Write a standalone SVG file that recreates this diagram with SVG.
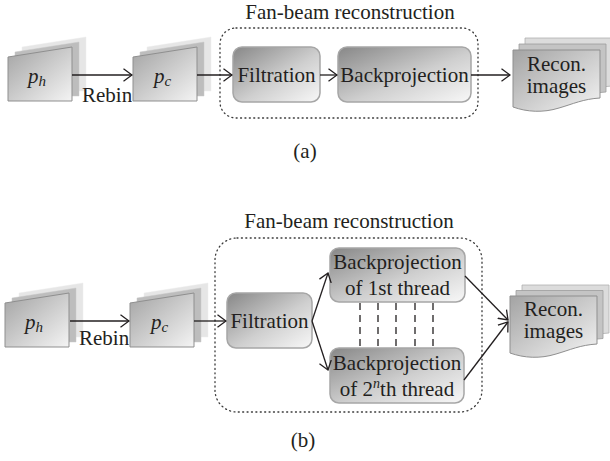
<svg xmlns="http://www.w3.org/2000/svg" xmlns:xlink="http://www.w3.org/1999/xlink" width="610" height="461" viewBox="0 0 610 461">
<style>
text{font-family:"Liberation Serif","DejaVu Serif",serif;fill:#231f20;font-size:21px}
.c{text-anchor:middle}
.it{font-style:italic}
.box{fill:url(#g);stroke:#a6a6a6;stroke-width:1.5}
.s0{fill:url(#gs);stroke:#8f8f8f;stroke-width:1}
.s1{fill:#bdbdbd;stroke:#c8c8c8;stroke-width:0.5}
.s2{fill:#e6e6e6;stroke:#ececec;stroke-width:0.5}
.d0{fill:url(#gs);stroke:#8f8f8f;stroke-width:1}
.d1{fill:#c4c4c4;stroke:#9c9c9c;stroke-width:0.8}
.d2{fill:#dcdcdc;stroke:#b0b0b0;stroke-width:0.8}
.grp{fill:none;stroke:#3a3a3a;stroke-width:1.3;stroke-dasharray:1 3.4;stroke-linecap:round}
.ln{fill:none;stroke:#231f20;stroke-width:1.3}
.dash{fill:none;stroke:#231f20;stroke-width:1.3;stroke-dasharray:7 5}
</style>
<defs>
<linearGradient id="g" x1="0" y1="0" x2="1" y2="1"><stop offset="0" stop-color="#878787"/><stop offset="0.55" stop-color="#cfcfcf"/><stop offset="1" stop-color="#f8f8f8"/></linearGradient>
<linearGradient id="gs" x1="0" y1="0" x2="1" y2="1"><stop offset="0" stop-color="#a3a3a3"/><stop offset="1" stop-color="#f4f4f4"/></linearGradient>
<marker id="arr" viewBox="0 0 10 14" refX="9" refY="7" markerWidth="10" markerHeight="14" markerUnits="userSpaceOnUse" orient="auto"><path d="M0.5,0.8 L9,7 L0.5,13.2" fill="none" stroke="#231f20" stroke-width="1.3"/></marker>
<path id="sheet" d="M0,10 L64,0 L64,54 L0,54 Z"/>
<path id="doc" d="M0,0 H87 V48 C70,49 60,54 46,58 C30,63 14,62 0,57 Z"/>
</defs>

<!-- Panel (a) -->
<g id="title-a"><text class="c" x="350" y="19">Fan-beam reconstruction</text></g>
<g id="group-a"><rect class="grp" x="220" y="28" width="258" height="90" rx="16"/></g>

<g id="ph-a" transform="translate(8,47)">
<use xlink:href="#sheet" href="#sheet" class="s2" transform="translate(14,-10)"/>
<use xlink:href="#sheet" href="#sheet" class="s1" transform="translate(7,-5)"/>
<use xlink:href="#sheet" href="#sheet" class="s0"/>
<text class="it" x="20" y="36">p<tspan font-size="15" dy="3">h</tspan></text>
</g>
<g id="pc-a" transform="translate(133,47)">
<use xlink:href="#sheet" href="#sheet" class="s2" transform="translate(14,-10)"/>
<use xlink:href="#sheet" href="#sheet" class="s1" transform="translate(7,-5)"/>
<use xlink:href="#sheet" href="#sheet" class="s0"/>
<text class="it" x="21" y="36">p<tspan font-size="15" dy="3">c</tspan></text>
</g>
<g id="filt-a"><rect class="box" x="233" y="47" width="87" height="55" rx="9"/><text class="c" x="276.5" y="82">Filtration</text></g>
<g id="bp-a"><rect class="box" x="338" y="47" width="133" height="55" rx="9"/><text class="c" x="404.5" y="82">Backprojection</text></g>
<g id="recon-a" transform="translate(513,50)">
<use xlink:href="#doc" href="#doc" class="d2" transform="translate(12,-12)"/>
<use xlink:href="#doc" href="#doc" class="d1" transform="translate(6,-6)"/>
<use xlink:href="#doc" href="#doc" class="d0"/>
<text class="c" x="43.5" y="21">Recon.</text>
<text class="c" x="43.5" y="43">images</text>
</g>
<g id="label-a"><text class="c" x="305" y="158">(a)</text></g>
<g id="rebin-a"><text x="82" y="102">Rebin</text></g>

<!-- Panel (b) -->
<g id="title-b"><text class="c" x="349" y="228">Fan-beam reconstruction</text></g>
<g id="group-b"><rect class="grp" x="215" y="238" width="267" height="174" rx="22"/></g>

<g id="ph-b" transform="translate(5,293)">
<use xlink:href="#sheet" href="#sheet" class="s2" transform="translate(14,-10)"/>
<use xlink:href="#sheet" href="#sheet" class="s1" transform="translate(7,-5)"/>
<use xlink:href="#sheet" href="#sheet" class="s0"/>
<text class="it" x="20" y="36">p<tspan font-size="15" dy="3">h</tspan></text>
</g>
<g id="pc-b" transform="translate(130,293)">
<use xlink:href="#sheet" href="#sheet" class="s2" transform="translate(14,-10)"/>
<use xlink:href="#sheet" href="#sheet" class="s1" transform="translate(7,-5)"/>
<use xlink:href="#sheet" href="#sheet" class="s0"/>
<text class="it" x="21" y="36">p<tspan font-size="15" dy="3">c</tspan></text>
</g>
<g id="filt-b"><rect class="box" x="227" y="293" width="85" height="55" rx="9"/><text class="c" x="269.5" y="328">Filtration</text></g>
<g id="bp1-b"><rect class="box" x="330" y="248" width="135" height="54" rx="9"/><text class="c" x="397.5" y="269">Backprojection</text><text class="c" x="397.5" y="295">of 1st thread</text></g>
<g id="bp2-b"><rect class="box" x="330" y="348" width="134" height="55" rx="9"/><text class="c" x="397" y="370">Backprojection</text><text class="c" x="397" y="396">of 2<tspan class="it" font-size="14" dy="-8">n</tspan><tspan dy="8">th thread</tspan></text></g>
<g id="recon-b" transform="translate(510,296)">
<use xlink:href="#doc" href="#doc" class="d2" transform="translate(12,-11)"/>
<use xlink:href="#doc" href="#doc" class="d1" transform="translate(6,-5.5)"/>
<use xlink:href="#doc" href="#doc" class="d0"/>
<text class="c" x="43.5" y="20">Recon.</text>
<text class="c" x="43.5" y="42">images</text>
</g>
<g id="label-b"><text class="c" x="303" y="447">(b)</text></g>
<g id="rebin-b"><text x="79" y="345">Rebin</text></g>

<!-- Connectors -->
<g id="connectors">
<line class="ln" x1="72" y1="75" x2="132" y2="75" marker-end="url(#arr)"/>
<line class="ln" x1="197" y1="75" x2="232" y2="75" marker-end="url(#arr)"/>
<line class="ln" x1="320" y1="75" x2="337" y2="75" marker-end="url(#arr)"/>
<line class="ln" x1="471" y1="75" x2="510" y2="75" marker-end="url(#arr)"/>

<line class="ln" x1="70" y1="321" x2="129" y2="321" marker-end="url(#arr)"/>
<line class="ln" x1="194" y1="321" x2="226" y2="321" marker-end="url(#arr)"/>
<line class="ln" x1="312" y1="321" x2="328" y2="273" marker-end="url(#arr)"/>
<line class="ln" x1="312" y1="321" x2="328" y2="370" marker-end="url(#arr)"/>
<line class="ln" x1="465" y1="276" x2="508" y2="320" marker-end="url(#arr)"/>
<line class="ln" x1="464" y1="380" x2="508" y2="322" marker-end="url(#arr)"/>

<line class="dash" x1="360" y1="303" x2="360" y2="348"/>
<line class="dash" x1="378" y1="303" x2="378" y2="348"/>
<line class="dash" x1="396" y1="303" x2="396" y2="348"/>
<line class="dash" x1="415" y1="303" x2="415" y2="348"/>
<line class="dash" x1="433" y1="303" x2="433" y2="348"/>
</g>
</svg>
